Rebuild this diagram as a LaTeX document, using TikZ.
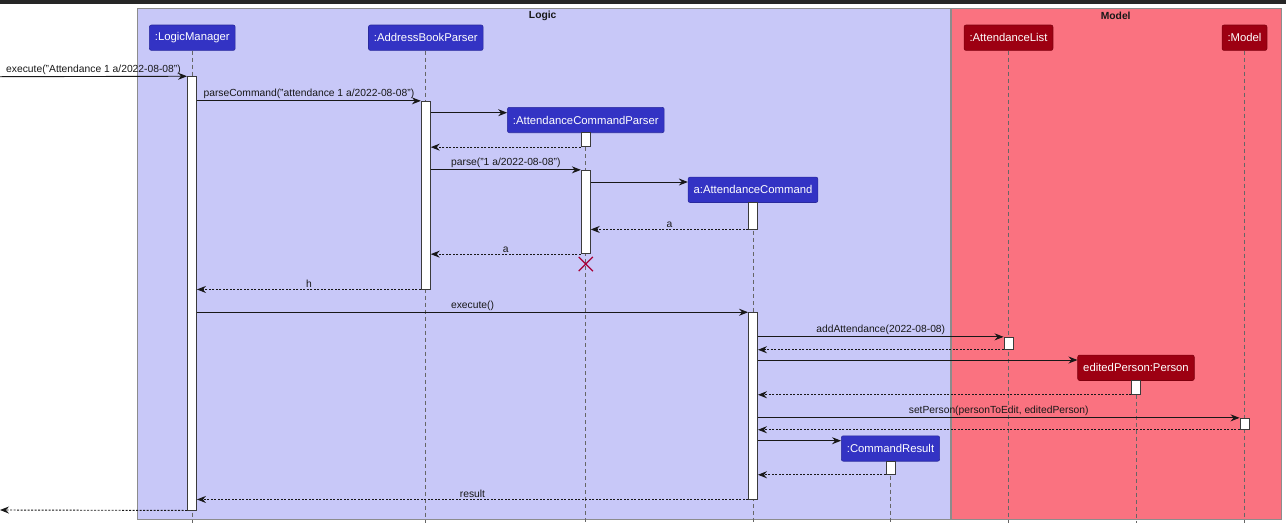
\documentclass[tikz,border=0pt]{standalone}
\usepackage{fontspec}
\setmainfont{Liberation Sans}
\usetikzlibrary{arrows.meta,shapes.misc}

\definecolor{logicbg}{RGB}{200,200,248}
\definecolor{modelbg}{RGB}{250,114,128}
\definecolor{logicfg}{RGB}{51,51,196}
\definecolor{modelfg}{RGB}{157,0,18}
\definecolor{inkline}{RGB}{24,24,24}
\definecolor{killred}{RGB}{168,0,54}

\begin{document}
\begin{tikzpicture}[x=1pt, y=-1pt,
  every node/.style = {font=\fontsize{10.3}{12}\selectfont, text=inkline},
  group/.style = {draw=black!45, line width=0.9pt},
  grouptitle/.style = {font=\bfseries\fontsize{10.3}{12}\selectfont},
  part/.style = {rectangle, rounded corners=2pt, line width=0.6pt, text=white,
    font=\fontsize{11.3}{13}\selectfont, minimum height=25.4pt, inner xsep=5.5pt},
  logicpart/.style = {part, draw=logicfg!80!black, fill=logicfg},
  modelpart/.style = {part, draw=modelfg!80!black, fill=modelfg},
  act/.style = {rectangle, draw=inkline!85, fill=white, line width=0.9pt,
    minimum width=9pt, inner sep=0pt},
  lifeline/.style = {draw=black!60, line width=0.8pt, dash pattern=on 4pt off 3pt},
  msg/.style = {draw=inkline, line width=0.9pt,
    -{Stealth[length=9pt, width=7pt, inset=3pt]}},
  ret/.style = {msg, dash pattern=on 2pt off 1.5pt},
  lbl/.style = {above, midway, inner sep=1.5pt},
  destroy/.style = {cross out, draw=killred, line width=1.2pt, minimum size=13pt, inner sep=0pt}
  ]
  \useasboundingbox (0,0) rectangle (1286,523);
  \fill[black!85] (0,0) rectangle (1286,4);

  % packages
  \draw[group, fill=logicbg] (137.3,8.3) rectangle (950.7,519.3);
  \draw[group, fill=modelbg] (951.7,8.3) rectangle (1281,519.3);
  \node[grouptitle] (logicT) at (542.7,16) {Logic};
  \node[grouptitle] (modelT) at (1115.7,16) {Model};

  \coordinate (bot) at (0,523);
  \coordinate (in) at (0,76.7);
  \coordinate (out) at (0,510);

  % participants
  \node[logicpart] (lm) at (192.3,37.7) {:LogicManager};
  \node[logicpart] (abp) at (425.8,37.7) {:AddressBookParser};
  \node[logicpart] (acp) at (585.8,120) {:AttendanceCommandParser};
  \node[logicpart] (ac) at (753,189.8) {a:AttendanceCommand};
  \node[logicpart] (cr) at (890.5,448.5) {:CommandResult};
  \node[modelpart] (al) at (1008.5,37.7) {:AttendanceList};
  \node[modelpart] (ep) at (1136,367.8) {editedPerson:Person};
  \node[modelpart] (mo) at (1244.5,37.7) {:Model};

  % lifelines
  \foreach \p in {lm,abp,acp,ac,cr,al,ep,mo}
    \draw[lifeline] (\p.south) -- (\p.south |- bot);

  % activations
  \node[act, minimum height=433.3pt] (lmA) at (192,293.35) {};
  \node[act, minimum height=187.7pt] (abpA) at (425.8,195.15) {};
  \node[act, minimum height=14pt] (acpA1) at (585.8,139.7) {};
  \node[act, minimum height=83.4pt] (acpA2) at (585.8,212) {};
  \node[act, minimum height=26.7pt] (acA1) at (753,215.65) {};
  \node[act, minimum height=186.3pt] (acA2) at (753,405.85) {};
  \node[act, minimum height=12pt] (alA) at (1008.5,343.3) {};
  \node[act, minimum height=13.8pt] (epA) at (1136,387.4) {};
  \node[act, minimum height=11pt] (moA) at (1244.5,423.8) {};
  \node[act, minimum height=12.8pt] (crA) at (890.5,467.9) {};
  \node[destroy] (acpX) at (585.8,264) {};

  % messages
  \draw[msg] (in) -- (lmA.north west) node[lbl] {execute("Attendance 1 a/2022-08-08")};
  \draw[msg] (lmA.east |- abpA.north) -- (abpA.north west) node[lbl] {parseCommand("attendance 1 a/2022-08-08")};
  \draw[msg] (abpA.east |- 0,112.7) -- (acp.west |- 0,112.7);
  \draw[ret] (acpA1.south west) -- (abpA.east |- acpA1.south);
  \draw[msg] (abpA.east |- acpA2.north) -- (acpA2.north west) node[lbl] {parse("1 a/2022-08-08")};
  \draw[msg] (acpA2.east |- 0,182) -- (ac.west |- 0,182);
  \draw[ret] (acA1.south west) -- (acpA2.east |- acA1.south) node[lbl] {a};
  \draw[ret] (acpA2.south west) -- (abpA.east |- acpA2.south) node[lbl] {a};
  \draw[ret] (abpA.south west) -- (lmA.east |- abpA.south) node[lbl] {h};
  \draw[msg] (lmA.east |- acA2.north) -- (acA2.north west) node[lbl] {execute()};
  \draw[msg] (acA2.east |- alA.north) -- (alA.north west) node[lbl] {addAttendance(2022-08-08)};
  \draw[ret] (alA.south west) -- (acA2.east |- alA.south);
  \draw[msg] (acA2.east |- 0,360) -- (ep.west |- 0,360);
  \draw[ret] (epA.south west) -- (acA2.east |- epA.south);
  \draw[msg] (acA2.east |- moA.north) -- (moA.north west) node[lbl] {setPerson(personToEdit, editedPerson)};
  \draw[ret] (moA.south west) -- (acA2.east |- moA.south);
  \draw[msg] (acA2.east |- 0,440.7) -- (cr.west |- 0,440.7);
  \draw[ret] (crA.south west) -- (acA2.east |- crA.south);
  \draw[ret] (acA2.south west) -- (lmA.east |- acA2.south) node[lbl] {result};
  \draw[ret] (lmA.south west) -- (out);
\end{tikzpicture}
\end{document}
